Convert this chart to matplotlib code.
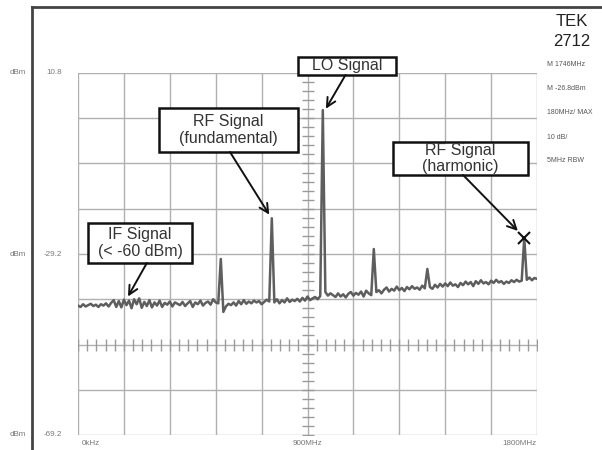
import numpy as np
import matplotlib
matplotlib.use('Agg')
import matplotlib.pyplot as plt
from matplotlib.lines import Line2D
from matplotlib.patches import Rectangle

plt.rcParams['font.family'] = ['Liberation Sans', 'DejaVu Sans']

# spectrum trace, 10 MHz per sample, 0..1800 MHz
freqs = np.arange(0, 1801, 10)
noise_dbm = [
    -40.6, -40.9, -40.3, -40.8, -40.5, -40.2, -40.7, -40.4, -40.9, -40.3,
    -40.6, -40.1, -40.8, -40.0, -39.4, -40.9, -39.6, -41.0, -39.3, -40.5,
    -39.5, -41.2, -39.2, -40.3, -39.0, -41.1, -39.8, -40.7, -39.4, -41.0,
    -39.9, -40.6, -39.5, -40.9, -40.0, -40.4, -39.7, -40.8, -39.9, -40.2,
    -40.5, -39.8, -40.7, -40.1, -39.6, -40.9, -39.9, -40.3, -39.5, -40.6,
    -40.0, -39.7, -40.4, -39.2, -39.9, -40.1, -39.5, -42.0, -40.8, -40.2,
    -40.5, -39.9, -40.6, -39.6, -40.3, -39.4, -40.2, -39.7, -40.1, -39.5,
    -39.9, -39.6, -40.3, -39.8, -39.3, -39.7, -39.0, -39.9, -39.2, -40.1,
    -39.4, -39.9, -39.0, -39.8, -39.3, -39.6, -39.1, -39.7, -38.9, -39.5,
    -38.6, -39.4, -39.0, -38.7, -39.2, -38.5, -38.5, -37.6, -38.4, -37.9,
    -38.3, -38.7, -37.9, -38.6, -38.1, -38.8, -38.0, -37.6, -38.4, -37.8,
    -38.2, -37.5, -38.6, -37.3, -37.9, -38.3, -37.0, -37.6, -37.2, -37.9,
    -37.1, -36.6, -37.5, -36.9, -37.3, -36.4, -37.2, -36.7, -37.4, -36.5,
    -37.0, -36.3, -36.9, -36.6, -37.1, -36.2, -36.8, -35.9, -36.5, -36.9,
    -36.0, -36.6, -35.8, -36.4, -35.7, -36.3, -35.5, -36.2, -35.9, -36.5,
    -35.6, -36.1, -35.3, -35.9, -35.4, -36.3, -35.2, -35.8, -35.0, -35.7,
    -35.4, -35.9, -35.1, -35.6, -34.9, -35.5, -35.2, -35.8, -35.3, -35.6,
    -35.0, -35.4, -34.9, -35.3, -35.1, -35.0, -34.9, -34.4, -35.0, -34.5,
    -34.7,
]
peak_freq = [560, 760, 960, 1160, 1370, 1750]
peak_dbm = [-30.3, -21.3, 2.6, -28.1, -32.5, -25.6]

y_top, y_bot = 10.8, -69.2
x_max = 1800

side_text = ['M 1746MHz', 'M -26.8dBm', '180MHz/ MAX', '10 dB/', '5MHz RBW']

trace = np.array(noise_dbm, dtype=float)
for f, lvl in zip(peak_freq, peak_dbm):
    trace[int(round(f / 10))] = lvl

fig = plt.figure(figsize=(6.02, 4.5), dpi=100)
ax = fig.add_axes([78 / 602, 15 / 450, 459 / 602, 362 / 450])
ax.set_xlim(0, x_max)
ax.set_ylim(y_bot, y_top)

grid_c = '#b0b0b0'
for xv in np.arange(0, x_max + 1, 180):
    ax.axvline(xv, color=grid_c, lw=1, zorder=1)
for yv in np.arange(y_bot, y_top + 0.01, 10):
    ax.axhline(yv, color=grid_c, lw=1, zorder=1)
for s in ax.spines.values():
    s.set_visible(False)
ax.set_xticks([])
ax.set_yticks([])

# minor ticks on the centre vertical and the marked horizontal line
ty = np.arange(y_bot, y_top + 0.01, 2)
ax.plot(np.full_like(ty, 900), ty, ls='none', marker='_', ms=8, mew=1, color='#9a9a9a', zorder=1)
tx = np.arange(0, x_max + 1, 36)
ax.plot(tx, np.full_like(tx, -49.2, dtype=float), ls='none', marker='|', ms=8, mew=1, color='#9a9a9a', zorder=1)

ax.plot(freqs, trace, color='#5e5e5e', lw=1.8, zorder=3)
ax.plot(peak_freq[5], peak_dbm[5], marker='x', ms=8, mew=1.5, color='#111111', zorder=5)

arrow = dict(arrowstyle='->', color='#111111', lw=1.4, mutation_scale=16, shrinkA=0, shrinkB=0)
tk = dict(fontsize=11.5, color='#333333', ha='center', va='center', zorder=7, clip_on=False,
          linespacing=1.1)


def label_box(x0, x1, y0, y1, txt):
    ax.add_patch(Rectangle((x0, y0), x1 - x0, y1 - y0, fc='white', ec='#111111', lw=1.8,
                           zorder=6, clip_on=False))
    ax.text((x0 + x1) / 2, (y0 + y1) / 2, txt, **tk)


label_box(863, 1247, 10.36, 14.34, 'LO Signal')
ax.annotate('', xy=(peak_freq[2] + 12, peak_dbm[2] + 0.3), xytext=(1049, 10.36),
            arrowprops=arrow, annotation_clip=False, zorder=6)

label_box(318, 863, -6.66, 3.07, 'RF Signal\n(fundamental)')
ax.annotate('', xy=(peak_freq[1] - 10, peak_dbm[1] + 0.8), xytext=(596, -6.66),
            arrowprops=arrow, zorder=6)

label_box(1235, 1765, -11.74, -4.45, 'RF Signal\n(harmonic)')
ax.annotate('', xy=(peak_freq[5] - 25, peak_dbm[5] + 1.5), xytext=(1510, -11.74),
            arrowprops=arrow, zorder=6)

label_box(39, 447, -31.19, -22.35, 'IF Signal\n(< -60 dBm)')
ax.annotate('', xy=(196, -38.6), xytext=(270, -31.19),
            arrowprops=arrow, zorder=6)

# axis labels
lab_c = '#777777'
for yv in [y_top, -29.2, y_bot]:
    ax.text(-0.148, (yv - y_bot) / (y_top - y_bot), 'dBm', transform=ax.transAxes,
            fontsize=5.8, color=lab_c, ha='left', va='center')
    ax.text(-0.035, (yv - y_bot) / (y_top - y_bot), f'{yv:.1f}', transform=ax.transAxes,
            fontsize=5.8, color=lab_c, ha='right', va='center')
ax.text(0.009, -0.014, '0kHz', transform=ax.transAxes, fontsize=5.8, color=lab_c, ha='left', va='top')
ax.text(0.5, -0.014, '900MHz', transform=ax.transAxes, fontsize=5.8, color=lab_c, ha='center', va='top')
ax.text(1.0, -0.014, '1800MHz', transform=ax.transAxes, fontsize=5.8, color=lab_c, ha='right', va='top')

# outer frame
fig.add_artist(Line2D([32 / 602, 32 / 602], [0, 1 - 7 / 450], color='#444444', lw=2))
fig.add_artist(Line2D([32 / 602, 1], [1 - 7 / 450, 1 - 7 / 450], color='#444444', lw=2))

# instrument panel
fig.text(572 / 602, 1 - 22 / 450, 'TEK', fontsize=12, color='#222222', ha='center', va='center')
fig.text(572 / 602, 1 - 42 / 450, '2712', fontsize=12, color='#222222', ha='center', va='center')
for i, s in enumerate(side_text):
    fig.text(547 / 602, 1 - (65 + 24 * i) / 450, s, fontsize=5, color='#555555', ha='left', va='center')

fig.savefig('out.png', dpi=100)
